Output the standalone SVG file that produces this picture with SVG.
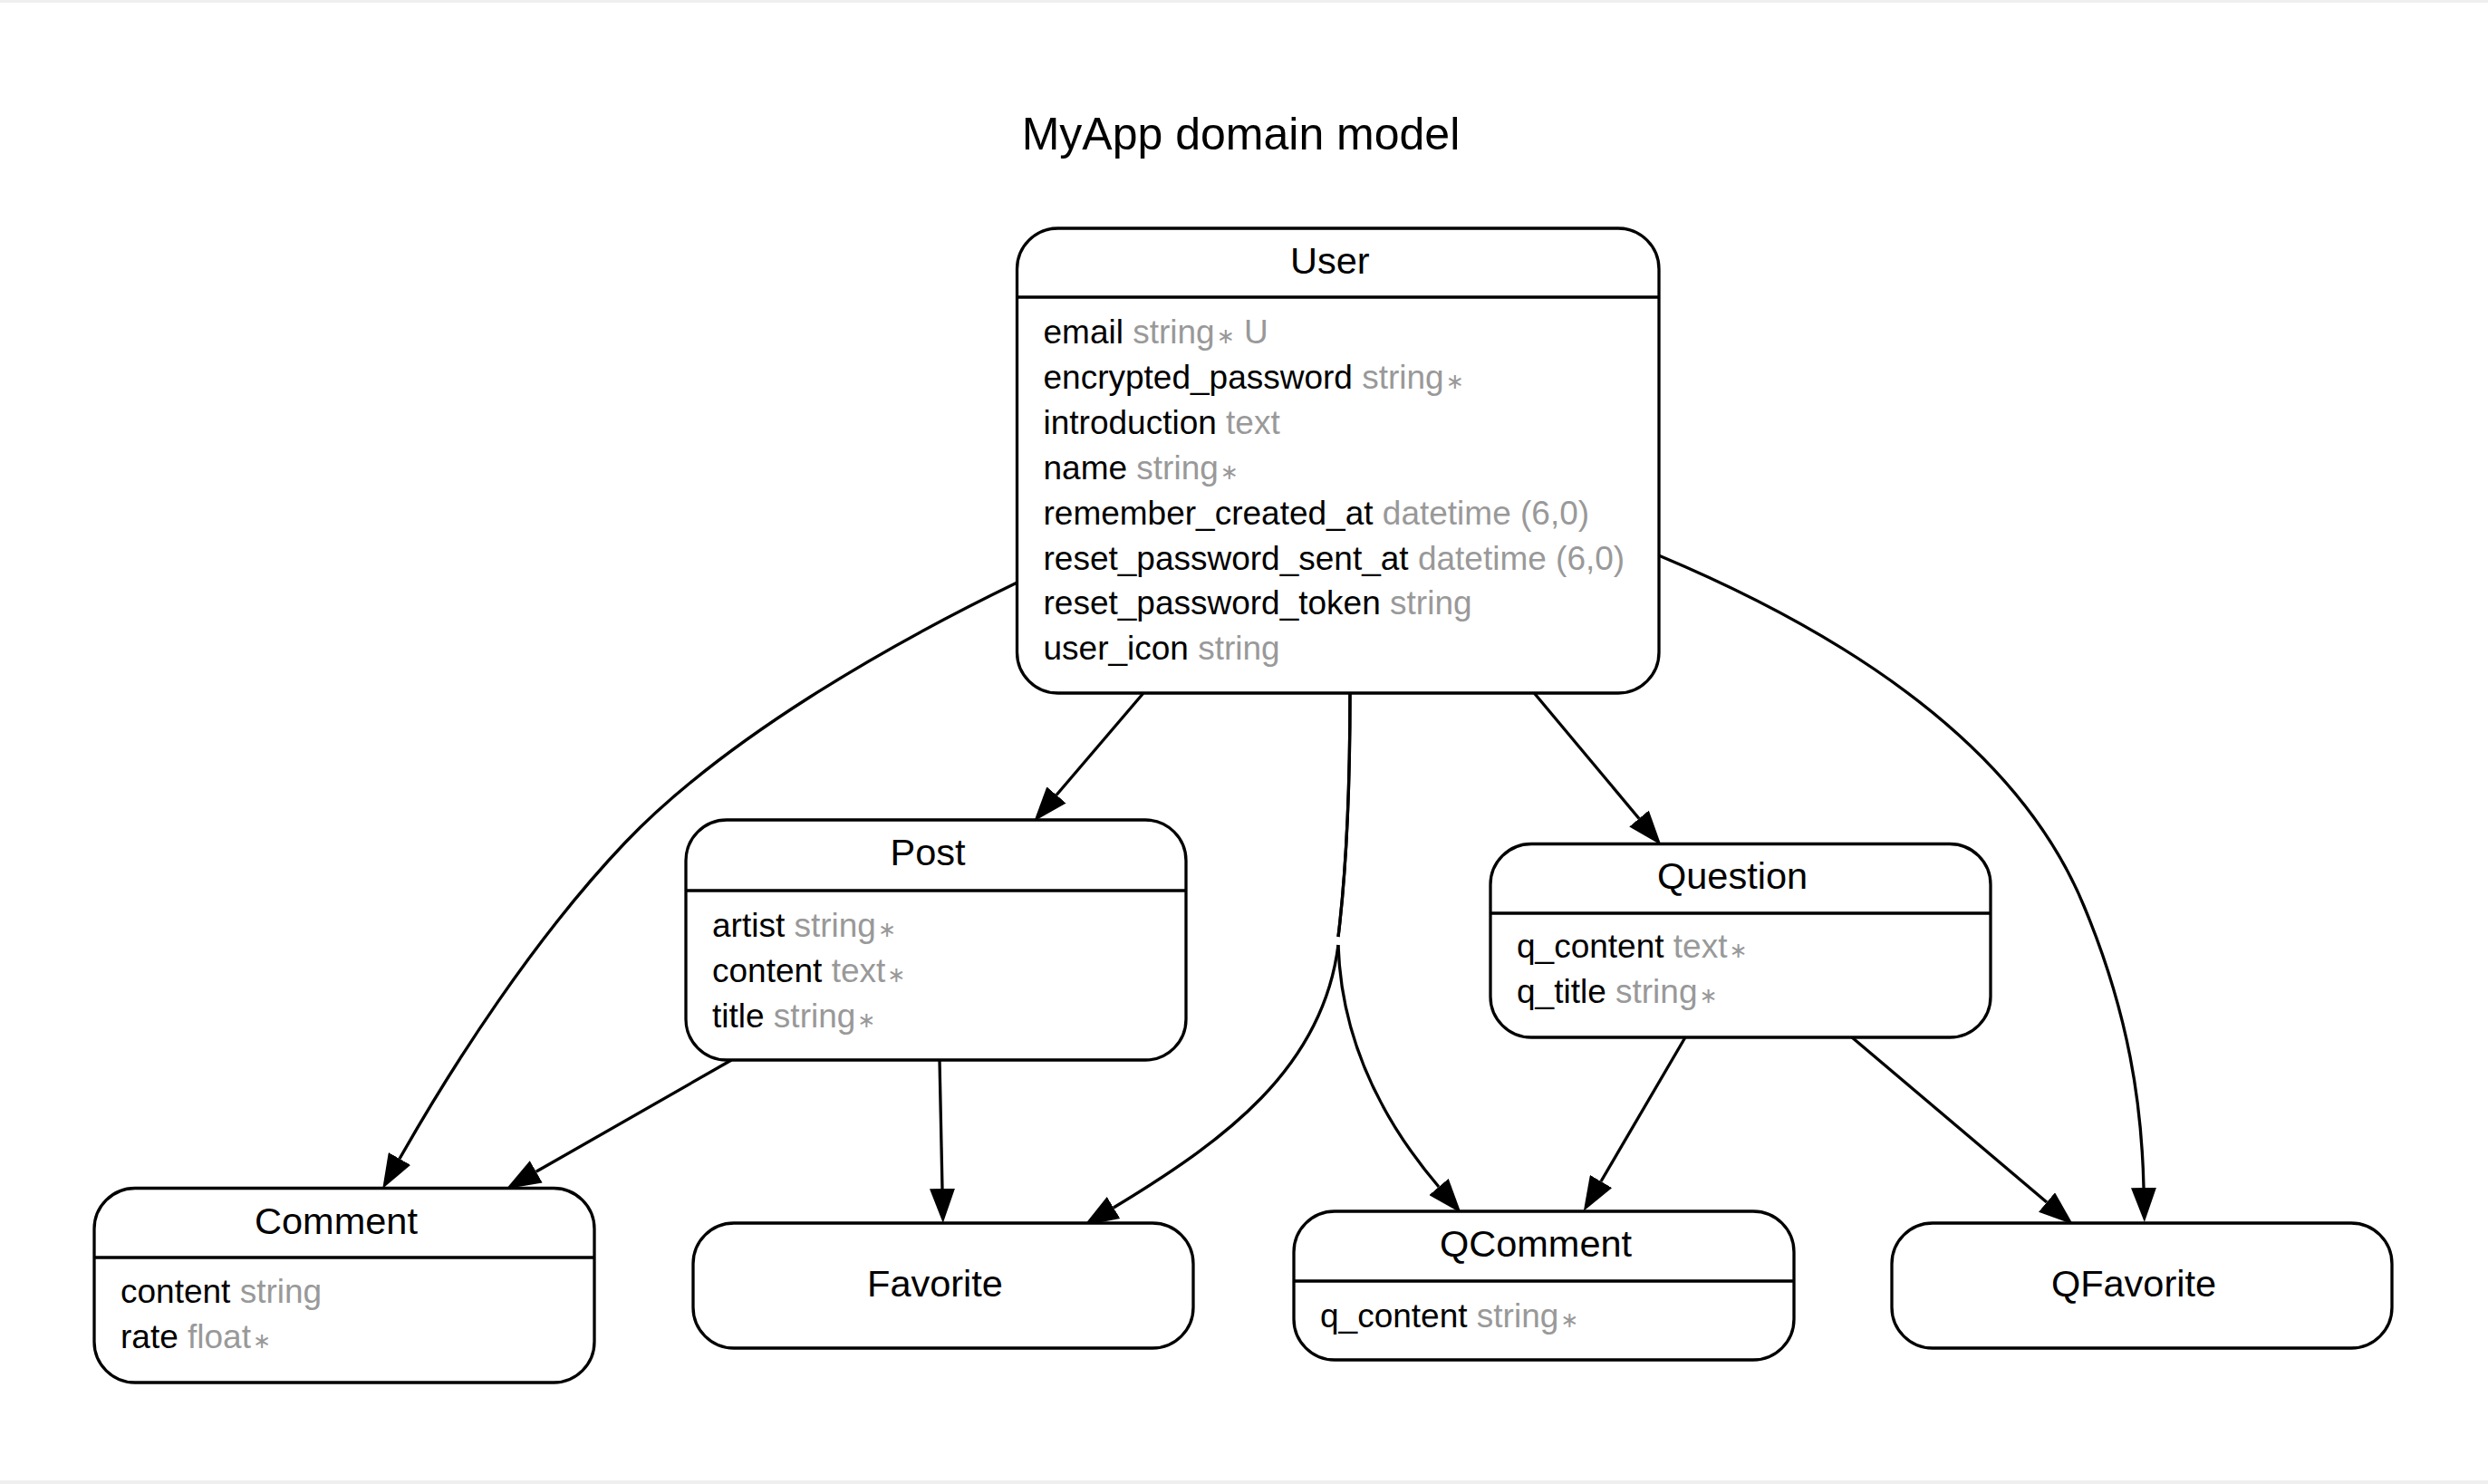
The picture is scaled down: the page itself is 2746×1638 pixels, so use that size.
<svg xmlns="http://www.w3.org/2000/svg" width="2746" height="1638" viewBox="0 0 2746 1638">
<defs>
<style>
.box{fill:#fff;stroke:#000;stroke-width:3.3}
.div{stroke:#000;stroke-width:3.3}
.hdr{font-family:"Liberation Sans",Arial,Helvetica,sans-serif;font-size:41.5px;text-anchor:middle;fill:#000}
.attr{font-family:"Liberation Sans",Arial,Helvetica,sans-serif;font-size:37px;fill:#000}
.title{font-family:"Liberation Sans",Arial,Helvetica,sans-serif;font-size:50px;text-anchor:middle;fill:#000}
.t{fill:#999}
.ast{font-family:"DejaVu Sans",sans-serif;font-size:24px;fill:#999}
.edge{fill:none;stroke:#000;stroke-width:3.3;marker-end:url(#arr)}
</style>
<marker id="arr" viewBox="0 0 38 28" refX="0" refY="14" markerWidth="38" markerHeight="28" markerUnits="userSpaceOnUse" orient="auto">
<path d="M0,0L38,14L0,28z" fill="#000"/>
</marker>
</defs>
<rect x="0" y="0" width="2746" height="1638" fill="#fff"/>
<rect x="0" y="0" width="2746" height="3" fill="#efefef"/>
<rect x="0" y="1634" width="2746" height="4" fill="#efefef"/>
<text class="title" x="1369.5" y="165">MyApp domain model</text>

<g id="connectors">
<path class="edge" d="M1122.6,643 C980,712 800,815 690,930 C590,1035 500,1175 441,1279"/>
<path class="edge" d="M1262,765 L1166,877.5"/>
<path class="edge" d="M1490,765 C1490,880 1486,960 1477,1034 M1477,1043 C1460,1180 1350,1260 1229,1333"/>
<path class="edge" d="M1490,765 C1490,880 1486,960 1477,1034 M1477,1043 C1480,1140 1520,1230 1588,1310"/>
<path class="edge" d="M1693.3,765 L1809,903.5"/>
<path class="edge" d="M1830.6,613 C2050,705 2230,830 2300,1000 C2350,1120 2364,1220 2366,1311"/>
<path class="edge" d="M807.4,1170 L591.7,1293.3"/>
<path class="edge" d="M1037,1170 L1040,1312"/>
<path class="edge" d="M1860,1145 L1767,1304"/>
<path class="edge" d="M2044,1145 L2259,1327"/>
</g>

<g id="User">
<rect class="box" x="1122.5" y="252" width="708.5" height="513" rx="45" ry="45"/>
<line class="div" x1="1122.5" y1="328" x2="1831" y2="328"/>
<text class="hdr" x="1467.75" y="302">User</text>
<text class="attr" x="1151.5" y="379">email <tspan class="t">string</tspan><tspan class="ast" dx="2">∗</tspan><tspan class="t"> U</tspan></text>
<text class="attr" x="1151.5" y="428.9">encrypted_password <tspan class="t">string</tspan><tspan class="ast" dx="2">∗</tspan></text>
<text class="attr" x="1151.5" y="478.8">introduction <tspan class="t">text</tspan></text>
<text class="attr" x="1151.5" y="528.7">name <tspan class="t">string</tspan><tspan class="ast" dx="2">∗</tspan></text>
<text class="attr" x="1151.5" y="578.6">remember_created_at <tspan class="t">datetime (6,0)</tspan></text>
<text class="attr" x="1151.5" y="628.5">reset_password_sent_at <tspan class="t">datetime (6,0)</tspan></text>
<text class="attr" x="1151.5" y="678.4">reset_password_token <tspan class="t">string</tspan></text>
<text class="attr" x="1151.5" y="728.3">user_icon <tspan class="t">string</tspan></text>
</g>

<g id="Post">
<rect class="box" x="757" y="905" width="552" height="265" rx="45" ry="45"/>
<line class="div" x1="757" y1="983" x2="1309" y2="983"/>
<text class="hdr" x="1024" y="955">Post</text>
<text class="attr" x="786" y="1034">artist <tspan class="t">string</tspan><tspan class="ast" dx="2">∗</tspan></text>
<text class="attr" x="786" y="1084">content <tspan class="t">text</tspan><tspan class="ast" dx="2">∗</tspan></text>
<text class="attr" x="786" y="1134">title <tspan class="t">string</tspan><tspan class="ast" dx="2">∗</tspan></text>
</g>

<g id="Question">
<rect class="box" x="1645" y="931.5" width="552" height="213.5" rx="45" ry="45"/>
<line class="div" x1="1645" y1="1008" x2="2197" y2="1008"/>
<text class="hdr" x="1912" y="981">Question</text>
<text class="attr" x="1674" y="1057">q_content <tspan class="t">text</tspan><tspan class="ast" dx="2">∗</tspan></text>
<text class="attr" x="1674" y="1107">q_title <tspan class="t">string</tspan><tspan class="ast" dx="2">∗</tspan></text>
</g>

<g id="Comment">
<rect class="box" x="104" y="1311.5" width="552" height="214.5" rx="45" ry="45"/>
<line class="div" x1="104" y1="1388" x2="656" y2="1388"/>
<text class="hdr" x="371" y="1362">Comment</text>
<text class="attr" x="133" y="1438">content <tspan class="t">string</tspan></text>
<text class="attr" x="133" y="1488">rate <tspan class="t">float</tspan><tspan class="ast" dx="2">∗</tspan></text>
</g>

<g id="Favorite">
<rect class="box" x="765" y="1350" width="552" height="138" rx="45" ry="45"/>
<text class="hdr" x="1032" y="1431">Favorite</text>
</g>

<g id="QComment">
<rect class="box" x="1428" y="1337" width="552" height="164" rx="45" ry="45"/>
<line class="div" x1="1428" y1="1414" x2="1980" y2="1414"/>
<text class="hdr" x="1695" y="1387">QComment</text>
<text class="attr" x="1457" y="1465">q_content <tspan class="t">string</tspan><tspan class="ast" dx="2">∗</tspan></text>
</g>

<g id="QFavorite">
<rect class="box" x="2088" y="1350" width="552" height="138" rx="45" ry="45"/>
<text class="hdr" x="2355" y="1431">QFavorite</text>
</g>
</svg>
